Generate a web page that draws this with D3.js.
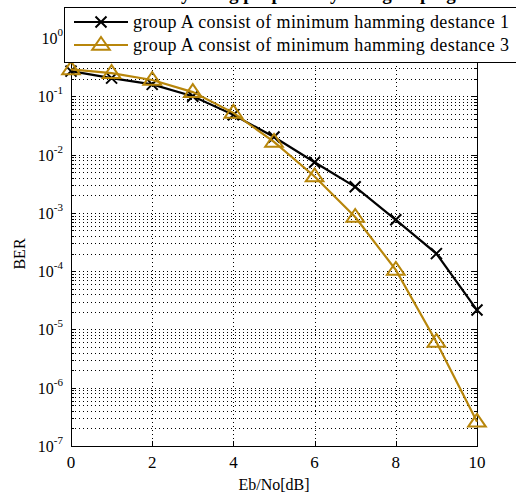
<!DOCTYPE html>
<html>
<head>
<meta charset="utf-8">
<script src="https://cdn.jsdelivr.net/npm/d3@7"></script>
<style>
  body { margin: 0; background: #fff; }
  svg { display: block; font-family: "Liberation Serif", "DejaVu Serif", serif; }
</style>
</head>
<body>
<svg id="chart" width="516" height="499"></svg>
<script>
// snr points (dB)
var ebno = [0, 1, 2, 3, 4, 5, 6, 7, 8, 9, 10];
// group A, min hamming distance 1
var berD1 = [0.27, 0.205, 0.16, 0.10, 0.048, 0.02, 0.0074, 0.0028, 7.6e-4, 2.0e-4, 2.15e-5];
// group A, min hamming distance 3
var berD3 = [0.29, 0.25, 0.19, 0.118, 0.052, 0.0165, 0.0042, 8.5e-4, 1.05e-4, 6.1e-6, 2.6e-7];
var xTicks = [0, 2, 4, 6, 8, 10];
var yExps = [0, -1, -2, -3, -4, -5, -6, -7];
var seriesNames = ["group A consist of minimum hamming destance 1", "group A consist of minimum hamming destance 3"];

var gold = "#b8860b";
var margin = {top: 38, right: 39, bottom: 53, left: 71};
var width = 516 - margin.left - margin.right;
var height = 499 - margin.top - margin.bottom;

var svg = d3.select("#chart");

// title is cut off at the top of the image
svg.append("text")
  .attr("x", 258).attr("y", 0)
  .attr("text-anchor", "middle")
  .style("font-size", "19px").style("font-weight", "bold")
  .text("Performance by using proposed system grouping");

var g = svg.append("g").attr("transform", "translate(" + margin.left + "," + margin.top + ")");

var x = d3.scaleLinear().domain([0, 10]).range([0, width]);
var y = d3.scaleLog().domain([1e-7, 1]).range([height, 0]);

// minor + major horizontal grid
var gridY = [];
yExps.forEach(function(e) {
  if (e === 0) return;
  for (var m = 1; m <= 9; m++) gridY.push(m * Math.pow(10, e));
});
g.selectAll(".hgrid").data(gridY).enter().append("line")
  .attr("class", "hgrid")
  .attr("x1", 0).attr("x2", width)
  .attr("y1", function(d) { return Math.round(y(d)) + 0.5; })
  .attr("y2", function(d) { return Math.round(y(d)) + 0.5; })
  .attr("stroke", "#000").attr("stroke-width", 1)
  .attr("stroke-dasharray", "1,3");

g.selectAll(".vgrid").data(xTicks.slice(1, -1)).enter().append("line")
  .attr("class", "vgrid")
  .attr("x1", function(d) { return Math.round(x(d)) + 0.5; })
  .attr("x2", function(d) { return Math.round(x(d)) + 0.5; })
  .attr("y1", 0).attr("y2", height)
  .attr("stroke", "#000").attr("stroke-width", 1)
  .attr("stroke-dasharray", "1,3");

// frame
g.append("rect").attr("x", 0.5).attr("y", 0.5).attr("width", width).attr("height", height)
  .attr("fill", "none").attr("stroke", "#000").attr("stroke-width", 1);

// inward ticks
xTicks.forEach(function(t) {
  var px = Math.round(x(t)) + 0.5;
  g.append("line").attr("x1", px).attr("x2", px).attr("y1", height).attr("y2", height - 5).attr("stroke", "#000");
  g.append("line").attr("x1", px).attr("x2", px).attr("y1", 0).attr("y2", 5).attr("stroke", "#000");
});
gridY.concat([1]).forEach(function(v) {
  var py = Math.round(y(v)) + 0.5;
  var len = Math.abs(Math.log10(v) - Math.round(Math.log10(v))) < 1e-9 ? 5 : 3;
  g.append("line").attr("x1", 0).attr("x2", len).attr("y1", py).attr("y2", py).attr("stroke", "#000");
  g.append("line").attr("x1", width - len).attr("x2", width).attr("y1", py).attr("y2", py).attr("stroke", "#000");
});

// x tick labels
g.selectAll(".xl").data(xTicks).enter().append("text")
  .attr("x", function(d) { return x(d); })
  .attr("y", height + 22)
  .attr("text-anchor", "middle")
  .style("font-size", "17px")
  .text(function(d) { return d; });

// y tick labels 10^n
yExps.forEach(function(e) {
  var t = g.append("text")
    .attr("x", -8).attr("y", y(Math.pow(10, e)) + 6)
    .attr("text-anchor", "end")
    .style("font-size", "16px");
  t.append("tspan").text("10");
  t.append("tspan").attr("dy", -8).style("font-size", "11px").text(e);
});

// axis titles
svg.append("text")
  .attr("x", margin.left + width / 2).attr("y", 490)
  .attr("text-anchor", "middle").style("font-size", "16px")
  .text("Eb/No[dB]");
svg.append("text")
  .attr("transform", "translate(25," + (margin.top + height / 2 + 12) + ") rotate(-90)")
  .attr("text-anchor", "middle").style("font-size", "16px")
  .text("BER");

var line = d3.line()
  .x(function(d, i) { return x(ebno[i]); })
  .y(function(d) { return y(d); });

function xMark(sel, s) {
  sel.append("path")
    .attr("d", "M" + (-s) + "," + (-s) + "L" + s + "," + s + "M" + (-s) + "," + s + "L" + s + "," + (-s))
    .attr("stroke", "#000").attr("stroke-width", 2).attr("fill", "none");
}
function triMark(sel, s) {
  sel.append("path")
    .attr("d", "M0," + (-s) + "L" + (s * 1.1) + "," + (s * 0.6) + "L" + (-s * 1.1) + "," + (s * 0.6) + "Z")
    .attr("stroke", gold).attr("stroke-width", 2).attr("fill", "none");
}

g.append("path").datum(berD1).attr("d", line)
  .attr("fill", "none").attr("stroke", "#000").attr("stroke-width", 2.2);
g.selectAll(".m1").data(berD1).enter().append("g")
  .attr("transform", function(d, i) { return "translate(" + x(ebno[i]) + "," + y(d) + ")"; })
  .each(function() { xMark(d3.select(this), 5.5); });

g.append("path").datum(berD3).attr("d", line)
  .attr("fill", "none").attr("stroke", gold).attr("stroke-width", 2.2);
g.selectAll(".m3").data(berD3).enter().append("g")
  .attr("transform", function(d, i) { return "translate(" + x(ebno[i]) + "," + y(d) + ")"; })
  .each(function() { triMark(d3.select(this), 8); });

// legend
var lg = svg.append("g").attr("transform", "translate(64,7)");
lg.append("rect").attr("x", 0.5).attr("y", 0.5).attr("width", 470).attr("height", 55)
  .attr("fill", "#fff").attr("stroke", "#000").attr("stroke-width", 1);
[0, 1].forEach(function(i) {
  var row = lg.append("g").attr("transform", "translate(0," + (15 + i * 23) + ")");
  row.append("line").attr("x1", 10).attr("x2", 64).attr("y1", 0).attr("y2", 0)
    .attr("stroke", i === 0 ? "#000" : gold).attr("stroke-width", 2.2);
  var m = row.append("g").attr("transform", "translate(37,0)");
  if (i === 0) xMark(m, 5.5); else triMark(m, 8);
  row.append("text").attr("x", 69).attr("y", 6)
    .attr("textLength", 376).attr("lengthAdjust", "spacing")
    .style("font-size", "18px").text(seriesNames[i]);
});
</script>
</body>
</html>
